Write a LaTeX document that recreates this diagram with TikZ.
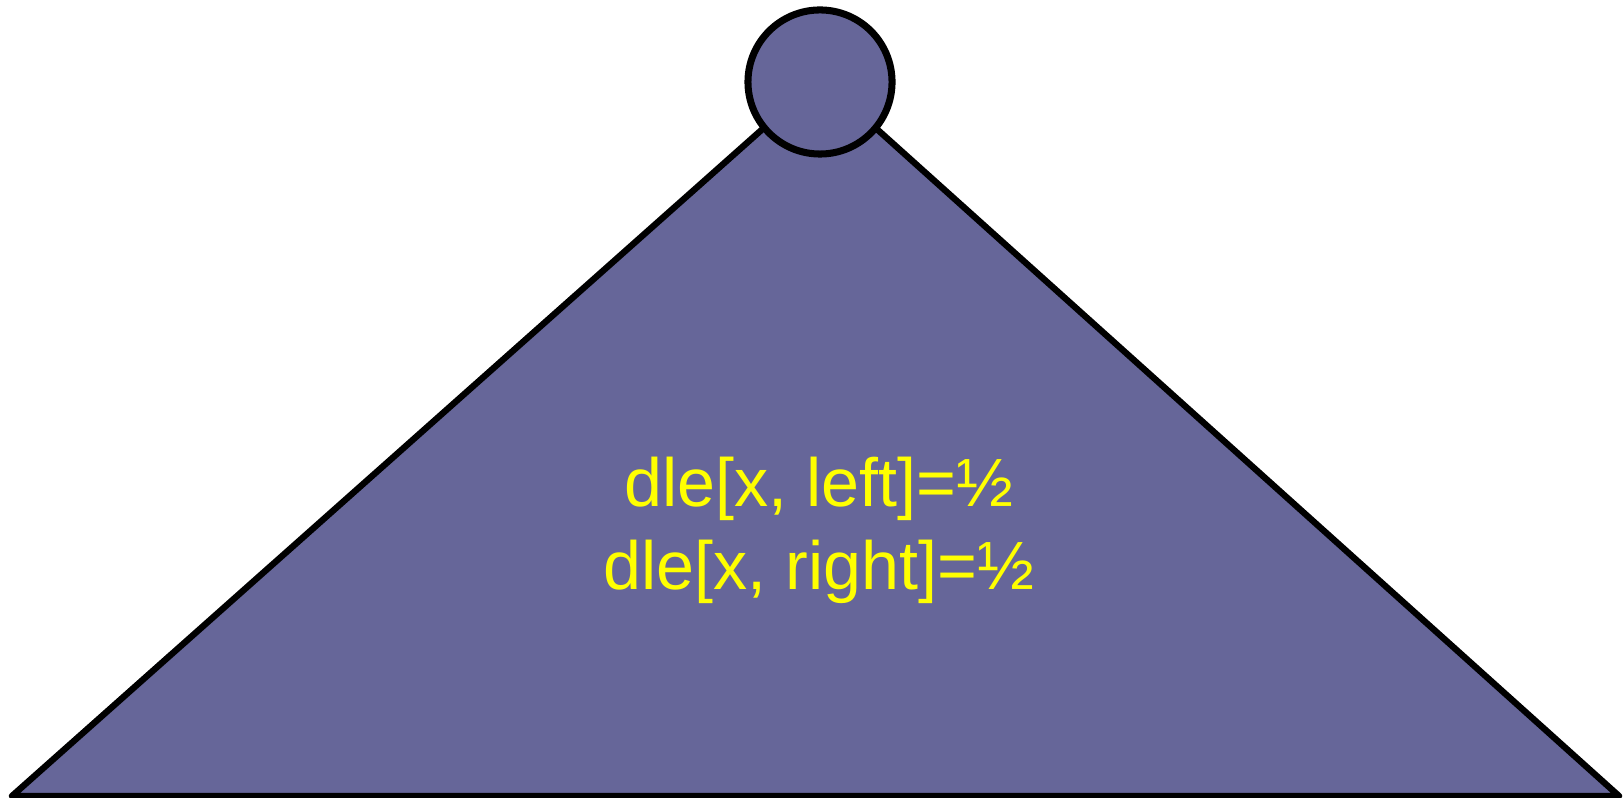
\documentclass[tikz,border=0pt]{standalone}
\usepackage{fontspec}
\setmainfont{Liberation Sans}
\usepackage{xcolor}
\usetikzlibrary{positioning}

\definecolor{slate}{RGB}{102,102,153}
\definecolor{labelyellow}{RGB}{255,255,0}

\begin{document}
\begin{tikzpicture}[
  x=0.01cm, y=-0.01cm,
  outline/.style={draw=black, line width=1.8pt, line join=round, fill=slate},
  knob/.style={circle, outline, line width=2pt, minimum size=1.44cm, inner sep=0pt},
  weights/.style={text=labelyellow, align=center, inner sep=0pt,
                  font=\fontsize{19.4}{23.6}\selectfont}
]
\useasboundingbox (0,0) rectangle (1624,798);
\coordinate (apex) at (820,78);
\coordinate (baseL) at (12,796);
\coordinate (baseR) at (1619,796);

\draw[outline] (baseL) -- (apex) -- (baseR) -- cycle;
\node[knob] (head) at (820,82) {};
\node[weights, anchor=base] (split) at (819,590) {dle[x, left]=½\\dle[x, right]=½};
\end{tikzpicture}
\end{document}
